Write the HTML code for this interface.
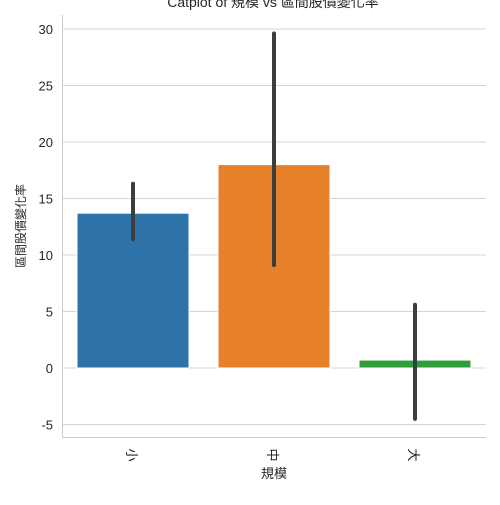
<!DOCTYPE html>
<html><head><meta charset="utf-8"><style>
body{margin:0;background:#fff}
svg text{font-family:"Liberation Sans","Noto Sans CJK TC",sans-serif;fill:#262626}
</style></head><body>
<svg id="c" width="500" height="500">
<text x="273" y="7" font-size="14" text-anchor="middle">Catplot of 規模 vs 區間股價變化率</text>
<g id="grid"></g><g id="bars"></g><g id="err"></g><g id="ticks"></g>
<line x1="62.5" y1="15" x2="62.5" y2="437.5" stroke="#ccc"/>
<line x1="62" y1="437.5" x2="486" y2="437.5" stroke="#ccc"/>
<text x="274" y="478" font-size="13" text-anchor="middle">規模</text>
<text transform="translate(25,226) rotate(-90)" font-size="12" text-anchor="middle">區間股價變化率</text>
</svg>
<script>
const categories=["小","中","大"];
const values=[13.7,18.0,0.7];
const errLow=[11.4,9.1,-4.5];
const errHigh=[16.3,29.6,5.6];
const yTicks=[-5,0,5,10,15,20,25,30];
const colors=["#2d73a8","#e7812b","#2f9d3a"];
const NS="http://www.w3.org/2000/svg";
function y(v){return 368-v*11.3;}
function xc(i){return 133+i*141;}
function mk(t,a,p){const e=document.createElementNS(NS,t);for(const k in a)e.setAttribute(k,a[k]);document.getElementById(p).appendChild(e);return e;}
yTicks.forEach(t=>{
 const l=mk("line",{x1:62,x2:486,y1:y(t),y2:y(t),stroke:"#d5d5d5"},"grid");
 
 
 const tx=mk("text",{x:53,y:y(t)+5,"font-size":13,"text-anchor":"end"},"ticks");
 tx.textContent=t;
 
 
});
categories.forEach((c,i)=>{
 const v=values[i];
 const r=mk("rect",{x:xc(i)-56,width:112,y:Math.min(y(v),y(0)),height:Math.abs(y(v)-y(0)),fill:colors[i],stroke:"#fff","stroke-width":1},"bars");
 
 
 const e=mk("line",{x1:xc(i),x2:xc(i),y1:y(errLow[i]),y2:y(errHigh[i]),stroke:"#3d3d3d","stroke-width":4,"stroke-linecap":"round"},"err");
 
 
 const t=mk("text",{transform:`translate(${xc(i)-6},455) rotate(90)`,"font-size":13,"text-anchor":"middle"},"ticks");
 t.textContent=c;
 
 
});
</script>
</body></html>
